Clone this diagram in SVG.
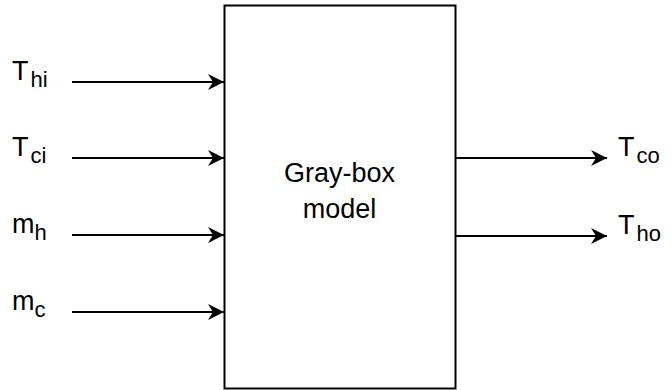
<svg xmlns="http://www.w3.org/2000/svg" width="672" height="390" viewBox="0 0 672 390">
  <style>
    .lbl { font-family: "Liberation Sans", Arial, Helvetica, sans-serif; fill: #000; }
    .main { font-size: 27px; }
    .sub { font-size: 22px; }
    .edge { stroke: #000; stroke-width: 2; fill: none; }
  </style>
  <defs>
    <marker id="arrow" markerUnits="userSpaceOnUse" markerWidth="18" markerHeight="18" refX="16" refY="8" orient="auto" viewBox="0 0 18 16">
      <path d="M0,0 L16,8 L0,16 L5,8 Z" fill="#000"/>
    </marker>
  </defs>
  <rect width="672" height="390" fill="#fff"/>

  <g id="model">
    <rect x="224.5" y="5.5" width="231" height="383" fill="#fff" stroke="#000" stroke-width="2"/>
    <text class="lbl main" x="339.5" y="182" text-anchor="middle">Gray-box</text>
    <text class="lbl main" x="339.5" y="218" text-anchor="middle">model</text>
  </g>

  <g id="connectors">
    <line class="edge" x1="72" y1="82" x2="224" y2="82" marker-end="url(#arrow)"/>
    <line class="edge" x1="72" y1="158" x2="224" y2="158" marker-end="url(#arrow)"/>
    <line class="edge" x1="72" y1="235" x2="224" y2="235" marker-end="url(#arrow)"/>
    <line class="edge" x1="72" y1="312" x2="224" y2="312" marker-end="url(#arrow)"/>
    <line class="edge" x1="456" y1="158" x2="607" y2="158" marker-end="url(#arrow)"/>
    <line class="edge" x1="456" y1="236" x2="607" y2="236" marker-end="url(#arrow)"/>
  </g>

  <g id="in-Thi">
    <text class="lbl main" x="12" y="80">T<tspan class="sub" dx="2" dy="7">hi</tspan></text>
  </g>
  <g id="in-Tci">
    <text class="lbl main" x="12" y="156">T<tspan class="sub" dx="2" dy="7">ci</tspan></text>
  </g>
  <g id="in-mh">
    <text class="lbl main" x="12" y="233">m<tspan class="sub" dy="7">h</tspan></text>
  </g>
  <g id="in-mc">
    <text class="lbl main" x="12" y="310">m<tspan class="sub" dy="7">c</tspan></text>
  </g>
  <g id="out-Tco">
    <text class="lbl main" x="618" y="156">T<tspan class="sub" dx="2" dy="7">co</tspan></text>
  </g>
  <g id="out-Tho">
    <text class="lbl main" x="618" y="234">T<tspan class="sub" dx="2" dy="7">ho</tspan></text>
  </g>
</svg>
